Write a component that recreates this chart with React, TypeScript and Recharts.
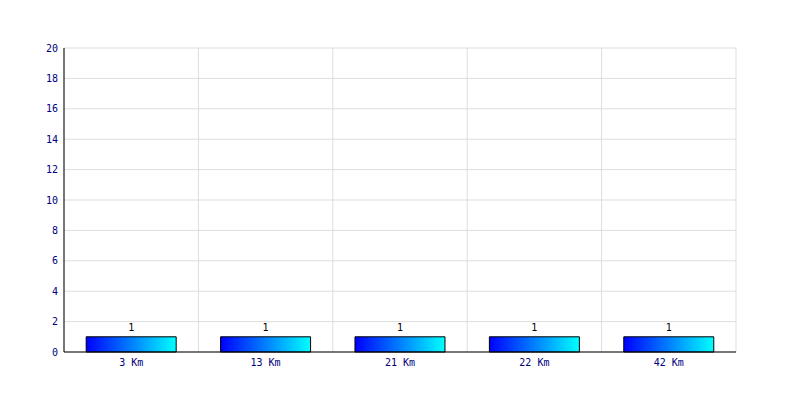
import React from 'react';
import { BarChart, Bar, XAxis, YAxis, CartesianGrid, LabelList } from 'recharts';

const categories = ['3 Km', '13 Km', '21 Km', '22 Km', '42 Km'];
const counts = [1, 1, 1, 1, 1];
const yTicks = [0, 2, 4, 6, 8, 10, 12, 14, 16, 18, 20];

const data = categories.map((name, i) => ({ name, value: counts[i] }));

const font = { fontFamily: 'DejaVu Sans Mono', fontSize: 10 };

export default function App() {
  return (
    <div style={{ position: 'absolute', left: 0, top: 0, width: 800, height: 400, background: '#fff' }}>
      <BarChart
        width={800}
        height={400}
        data={data}
        margin={{ top: 48, right: 64, bottom: 28, left: 34 }}
        barCategoryGap="16.5%"
      >
        <defs>
          <linearGradient id="barGrad" x1="0" y1="0" x2="1" y2="0">
            <stop offset="0%" stopColor="#0000ff" />
            <stop offset="100%" stopColor="#00ffff" />
          </linearGradient>
        </defs>
        <CartesianGrid
          stroke="#dddddd"
          verticalCoordinatesGenerator={({ offset }: any) =>
            Array.from({ length: categories.length + 1 }, (_, i) => offset.left + (i * offset.width) / categories.length)
          }
        />
        <XAxis
          dataKey="name"
          height={20}
          tickLine={false}
          axisLine={{ stroke: '#000' }}
          tick={{ ...font, fill: '#000080' }}
          tickMargin={1}
          interval={0}
        />
        <YAxis
          width={30}
          domain={[0, 20]}
          ticks={yTicks}
          tickLine={false}
          axisLine={{ stroke: '#000' }}
          tick={{ ...font, fill: '#000080' }}
          tickMargin={0}
          interval={0}
        />
        <Bar dataKey="value" fill="url(#barGrad)" stroke="#000" strokeWidth={1} isAnimationActive={false}>
          <LabelList dataKey="value" position="top" offset={6} style={{ ...font, fill: '#000' }} />
        </Bar>
      </BarChart>
    </div>
  );
}
